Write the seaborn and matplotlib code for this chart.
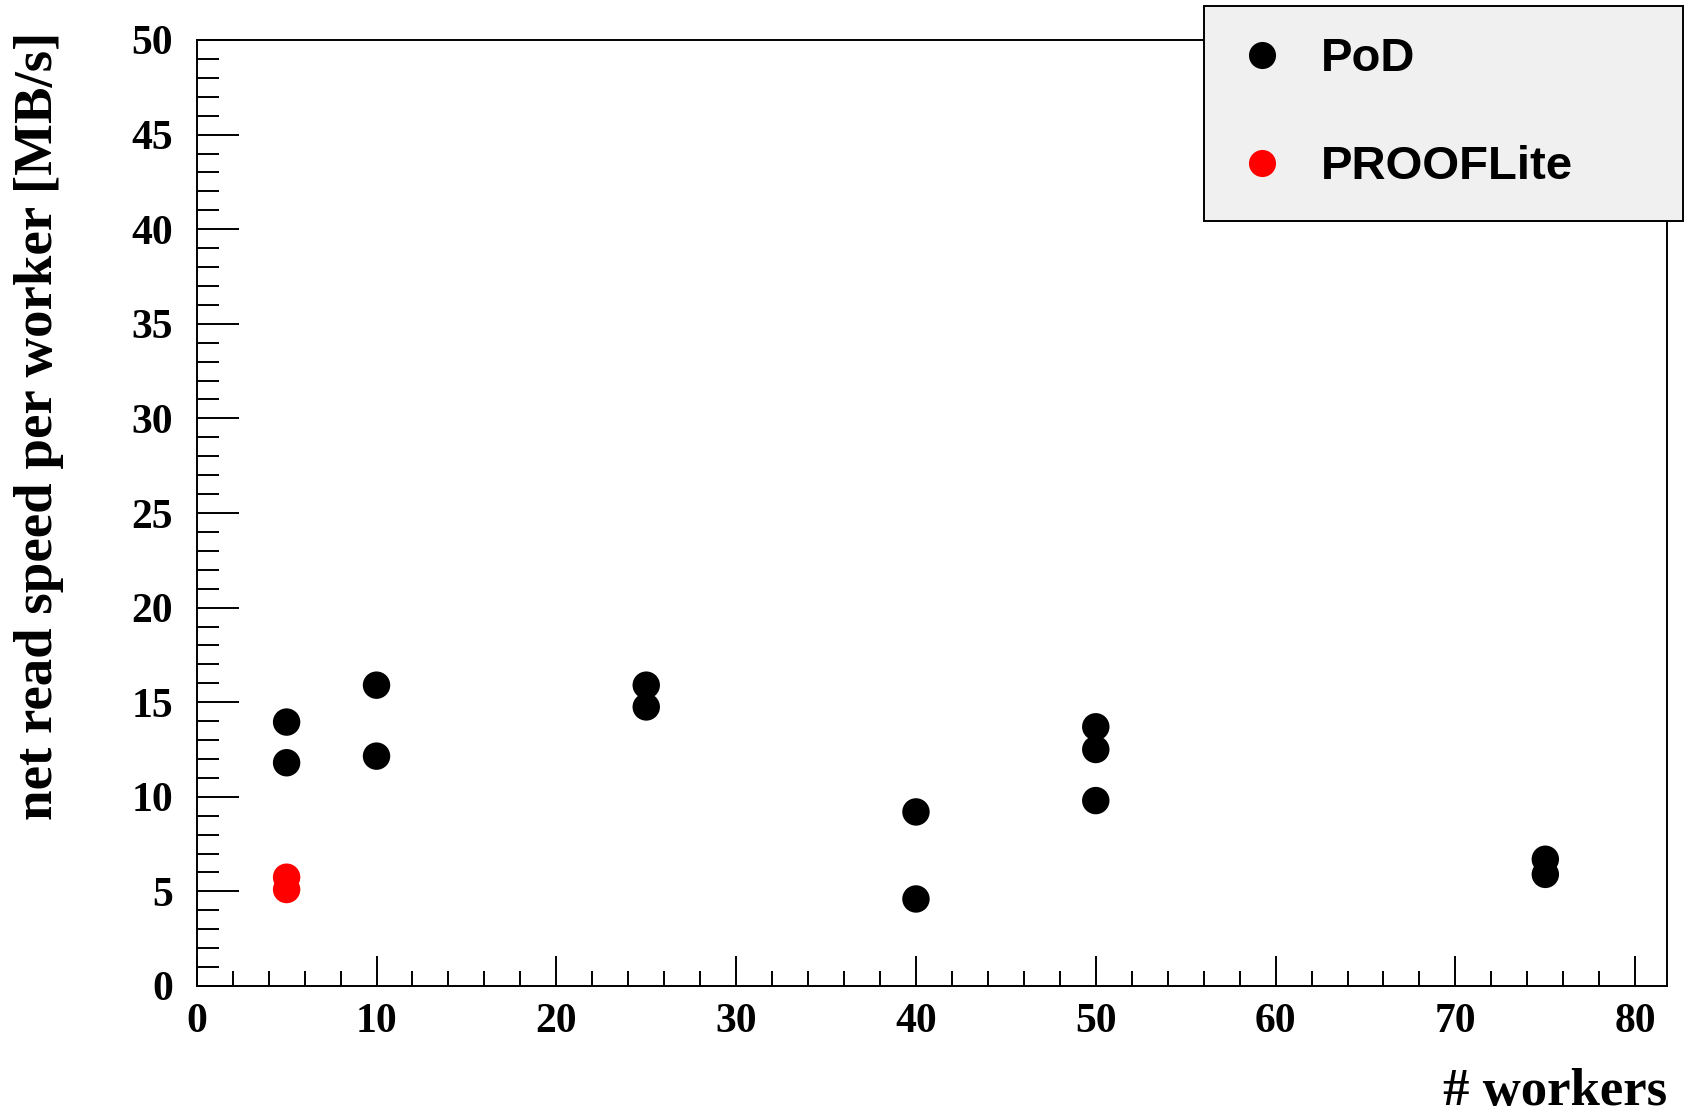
import matplotlib
matplotlib.use("Agg")
import matplotlib.pyplot as plt
import seaborn as sns
import pandas as pd
from matplotlib.ticker import MultipleLocator

# ---- data ----
pod_workers = [5, 5, 10, 10, 25, 25, 40, 40, 50, 50, 50, 75, 75]
pod_speed = [13.95, 11.8, 15.9, 12.15, 15.9, 14.75, 9.2, 4.6, 13.7, 12.5, 9.8, 6.7, 5.9]
lite_workers = [5, 5]
lite_speed = [5.75, 5.1]
series_names = ["PoD", "PROOFLite"]
series_colors = ["black", "red"]
x_label = "# workers"
y_label = "net read speed per worker [MB/s]"

df = pd.DataFrame({
    "workers": pod_workers + lite_workers,
    "speed": pod_speed + lite_speed,
    "series": [series_names[0]] * len(pod_workers) + [series_names[1]] * len(lite_workers),
})

sns.set_style("white")
plt.rcParams["font.family"] = ["Liberation Serif", "DejaVu Serif"]
plt.rcParams["text.color"] = "black"
plt.rcParams["axes.labelcolor"] = "black"
plt.rcParams["xtick.color"] = "black"
plt.rcParams["ytick.color"] = "black"

W, H = 1691, 1114
fig = plt.figure(figsize=(W / 100, H / 100), dpi=100)
ax_l, ax_r, ax_t, ax_b = 196.7, 1666.7, 40, 986
ax = fig.add_axes([ax_l / W, 1 - ax_b / H, (ax_r - ax_l) / W, (ax_b - ax_t) / H])

sns.scatterplot(data=df, x="workers", y="speed", hue="series",
                palette=dict(zip(series_names, series_colors)),
                s=390, linewidth=0, ax=ax, zorder=3)

ax.set_xlim(0, 81.75)
ax.set_ylim(0, 50)
ax.xaxis.set_major_locator(MultipleLocator(10))
ax.xaxis.set_minor_locator(MultipleLocator(2))
ax.yaxis.set_major_locator(MultipleLocator(5))
ax.yaxis.set_minor_locator(MultipleLocator(1))

for sp in ax.spines.values():
    sp.set_color("black")
    sp.set_linewidth(1.4)

ax.tick_params(axis="both", which="both", direction="in", color="black",
               labelcolor="black", width=1.4, bottom=True, left=True,
               top=False, right=False, labelsize=30)
ax.tick_params(axis="x", which="major", length=21.6, pad=12)
ax.tick_params(axis="x", which="minor", length=11)
ax.tick_params(axis="y", which="major", length=30, pad=17)
ax.tick_params(axis="y", which="minor", length=16)
for lab in ax.get_xticklabels() + ax.get_yticklabels():
    lab.set_fontweight("bold")

ax.set_xlabel(x_label, fontsize=38, fontweight="bold", loc="right", color="black")
ax.set_ylabel(y_label, fontsize=39.5, fontweight="bold", loc="top", color="black")
ax.xaxis.set_label_coords(1.0, -0.087)
ax.yaxis.set_label_coords(-0.09, 1.0085)

handles, labels = ax.get_legend_handles_labels()
leg_l, leg_r, leg_t, leg_b = 1204, 1683, 6, 216.7
leg = ax.legend(handles, labels, loc="upper left",
                bbox_to_anchor=(leg_l / W, 1 - leg_b / H, (leg_r - leg_l) / W, (leg_b - leg_t) / H),
                bbox_transform=fig.transFigure, mode="expand",
                prop={"family": ["Liberation Sans", "DejaVu Sans"], "weight": "bold", "size": 34},
                frameon=True, fancybox=False, framealpha=1, facecolor="#f0f0f0",
                edgecolor="black", borderpad=0.66, labelspacing=1.36,
                handlelength=1.12, handletextpad=0.69, borderaxespad=0, markerscale=1)
leg.get_frame().set_linewidth(1.4)
for t in leg.get_texts():
    t.set_color("black")
for h in leg.legend_handles:
    try:
        h.set_markersize(19.5)
    except Exception:
        pass

fig.savefig("out.png", dpi=100)
